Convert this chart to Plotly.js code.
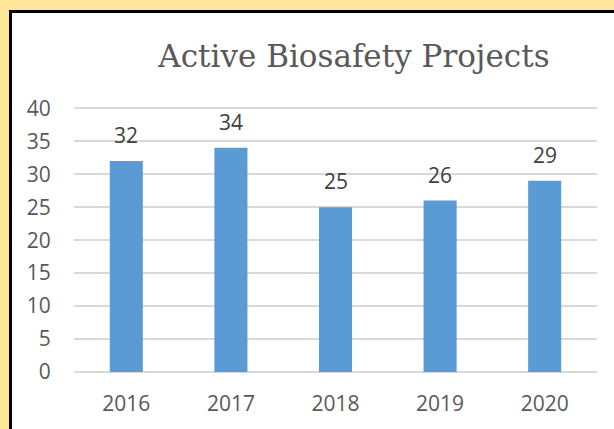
<!DOCTYPE html>
<html>
<head>
<meta charset="utf-8">
<script src="https://cdn.plot.ly/plotly-3.0.1.min.js"></script>
<style>
html,body{margin:0;padding:0;width:614px;height:429px;overflow:hidden;background:#FFE699;}
#frame{position:absolute;left:9px;top:10px;width:605px;height:419px;background:#fff;border-left:3px solid #000;border-top:3px solid #000;box-sizing:border-box;}
#chart{position:absolute;left:12px;top:13px;width:602px;height:416px;}
</style>
</head>
<body>
<div id="frame"></div>
<div id="chart"></div>
<script>
const years = [2016, 2017, 2018, 2019, 2020];
const yearLabels = ['2016','2017','2018','2019','2020'];
const projects = [32, 34, 25, 26, 29];
const yTicks = [0,5,10,15,20,25,30,35,40];
const chartTitle = 'Active Biosafety Projects';

const trace = {
  type: 'bar',
  x: years,
  y: projects,
  width: 0.316,
  marker: {color: '#5B9BD5'},
  hoverinfo: 'skip'
};

const annotations = years.map((yr, i) => ({
  x: yr, y: projects[i], xref: 'x', yref: 'y',
  text: String(projects[i]), showarrow: false,
  yanchor: 'bottom', yshift: 10,
  font: {family: 'Open Sans, sans-serif', size: 21, color: '#404040'}
}));

const layout = {
  width: 602, height: 416,
  paper_bgcolor: '#ffffff', plot_bgcolor: '#ffffff',
  margin: {l: 62, r: 17, t: 92, b: 57},
  showlegend: false,
  title: {
    text: chartTitle,
    x: 0.568, xanchor: 'center', xref: 'container',
    y: 1 - 43/416, yanchor: 'middle', yref: 'container',
    font: {family: 'DejaVu Serif, serif', size: 31, color: '#595959'}
  },
  xaxis: {
    range: [2015.5, 2020.5],
    tickvals: years, ticktext: yearLabels,
    showgrid: false, zeroline: false, showline: false,
    ticks: 'outside', ticklen: 13, tickcolor: 'rgba(0,0,0,0)',
    tickfont: {family: 'Open Sans, sans-serif', size: 21, color: '#595959'}
  },
  yaxis: {
    range: [0, 40.5],
    tickvals: yTicks,
    showgrid: true, gridcolor: '#D9D9D9', gridwidth: 2,
    zeroline: true, zerolinecolor: '#D9D9D9', zerolinewidth: 2,
    showline: false,
    ticks: 'outside', ticklen: 18, tickcolor: 'rgba(0,0,0,0)',
    tickfont: {family: 'Open Sans, sans-serif', size: 21, color: '#595959'}
  },
  annotations: annotations
};

Plotly.newPlot('chart', [trace], layout, {staticPlot: true, displayModeBar: false});
</script>
</body>
</html>
